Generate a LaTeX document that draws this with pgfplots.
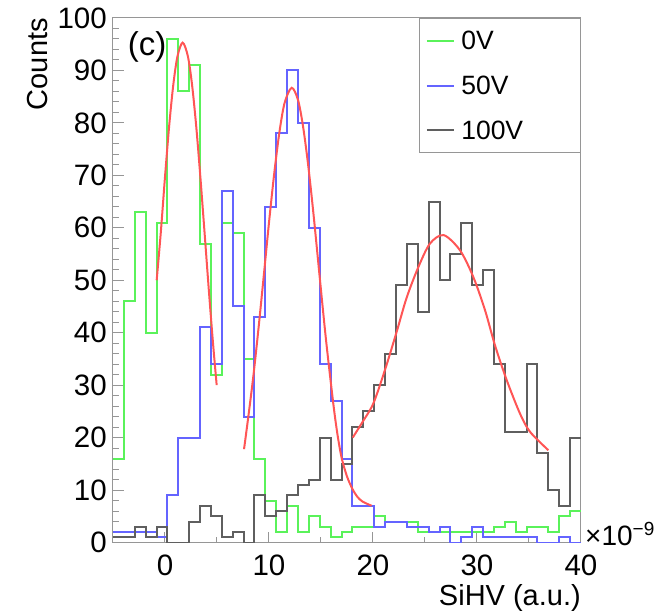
\documentclass[border=0pt]{standalone}
\usepackage{fontspec}
\setmainfont{Liberation Sans}
\usepackage{pgfplots}
\usepackage{pgfplotstable}
\pgfplotsset{compat=1.18}
\definecolor{hgreen}{RGB}{90,242,90}
\definecolor{hblue}{RGB}{100,100,255}
\definecolor{hblack}{RGB}{95,95,95}
\definecolor{hred}{RGB}{255,85,85}
\definecolor{framec}{RGB}{150,150,150}

% bin left edges (43 bins from -5 to 40) and counts; last row closes the final bin
\pgfplotstableread{
x g b k
-5.000 16 2 1
-3.953 46 2 1
-2.907 63 2 3
-1.860 40 2 1
-0.814 61 1 3
0.233 96 9 0
1.279 86 20 0
2.326 91 20 4
3.372 57 41 7
4.419 32 34 5
5.465 61 67 1
6.512 59 45 2
7.558 35 24 0
8.605 16 43 9
9.651 8 64 5
10.698 2 78 6
11.744 7 90 9
12.791 2 80 11
13.837 5 60 12
14.884 3 34 20
15.930 1 27 12
16.977 2 16 15
18.023 3 7 22
19.070 3 7 25
20.116 5 3 30
21.163 4 4 36
22.209 4 4 49
23.256 4 3 57
24.302 2 3 44
25.349 2 2 65
26.395 2 3 50
27.442 2 0 55
28.488 2 1 61
29.535 2 3 49
30.581 2 1 52
31.628 3 1 34
32.674 4 1 21
33.721 2 1 21
34.767 3 1 34
35.814 3 0 17
36.860 2 0 10
37.907 5 1 7
38.953 6 0 20
40.000 6 0 20
}\hist

\begin{document}
\begin{tikzpicture}
\begin{axis}[
  at={(0,0)}, anchor=south west,
  scale only axis, width=468pt, height=524.5pt,
  xmin=-5, xmax=40, ymin=0, ymax=100,
  axis line style={framec, line width=1pt},
  tick pos=left, tick align=inside,
  xtick={0,10,20,30,40}, minor xtick={-5,5,15,25,35},
  ytick={0,10,...,100}, minor y tick num=4,
  major tick length=11pt, minor tick length=6pt,
  every tick/.style={framec, line width=1pt},
  /pgf/number format/assume math mode=true,
  ticklabel style={font=\fontsize{29.5}{29.5}\selectfont},
  xticklabel style={anchor=north, inner sep=0pt, yshift=-12pt},
  yticklabel style={anchor=east, inner sep=0pt, xshift=-6pt},
  xlabel={SiHV (a.u.)}, ylabel={Counts},
  label style={font=\fontsize{29}{29}\selectfont},
  xlabel style={at={(rel axis cs:1,-0.1192)}, anchor=base east, inner sep=0pt},
  ylabel style={at={(rel axis cs:-0.1389,1)}, anchor=base east, inner sep=0pt},
  legend style={at={(1,1)}, anchor=north east, draw=framec, line width=1pt,
    fill=white, inner xsep=6pt, inner ysep=0pt, row sep=0pt, column sep=0pt,
    font=\fontsize{26.5}{26.5}\selectfont,
    nodes={inner xsep=6.5pt, inner ysep=0pt, minimum height=44.8pt,
      text width=106.7pt, align=left}},
  legend image code/.code={\draw[#1, line width=2pt] (0pt,0pt) -- (27pt,0pt);},
  clip mode=individual,
]
\addplot[const plot, hgreen, line width=2pt] table[x=x, y=g] {\hist};
\addlegendentry{0V}
\addplot[const plot, hblue, line width=2pt] table[x=x, y=b] {\hist};
\addlegendentry{50V}
\addplot[const plot, hblack, line width=2pt] table[x=x, y=k] {\hist};
\addlegendentry{100V}

\addplot[hred, line width=2pt, smooth, forget plot] coordinates {
(-0.8,50.0) (-0.4,59.2) (0,69.7) (0.4,79.4) (0.8,87.3) (1.2,92.7) (1.7,95.3)
(2.2,92.7) (2.6,87.3) (3.0,79.4) (3.4,69.7) (3.8,59.2) (4.2,48.5) (4.6,38.4) (4.97,30.0)};
\addplot[hred, line width=2pt, smooth, forget plot] coordinates {
(7.6,17.8) (8.0,23.8) (8.5,31.8) (9.0,41.0) (9.5,50.9) (10.0,61.0) (10.5,70.3)
(11.0,78.2) (11.5,83.8) (12.18,86.7) (12.8,84.3) (13.3,79.0) (13.8,71.4) (14.3,62.2)
(14.9,50.1) (15.5,38.3) (16.2,26.2) (16.6,20.4) (17.0,16.0) (17.5,12.6) (18.0,10.3)
(18.5,8.7) (19.0,7.8) (19.87,7.0)};
\addplot[hred, line width=2pt, smooth, forget plot] coordinates {
(18.05,20.0) (19.0,23.0) (20.03,26.5) (21.15,32.9) (22.28,40.2) (23.24,46.7)
(24.36,52.5) (25.48,57.0) (26.8,58.6) (28.37,55.7) (29.65,50.6) (30.77,44.3)
(31.73,37.6) (32.85,31.0) (34.13,24.6) (35.1,21.1) (36.86,17.6)};

\node[font=\fontsize{33}{33}\selectfont, inner sep=0pt] at (axis cs:-1.73,94.4) {(c)};
\node[font=\fontsize{28}{28}\selectfont, anchor=base west, inner sep=0pt, xshift=4pt, yshift=-3pt]
  at (rel axis cs:1,0) {×10\raisebox{10pt}{\fontsize{19}{19}\selectfont −9}};
\end{axis}
\pgfresetboundingbox
\path (-113pt,-71.5pt) rectangle (541pt,542.5pt);
\end{tikzpicture}
\end{document}
